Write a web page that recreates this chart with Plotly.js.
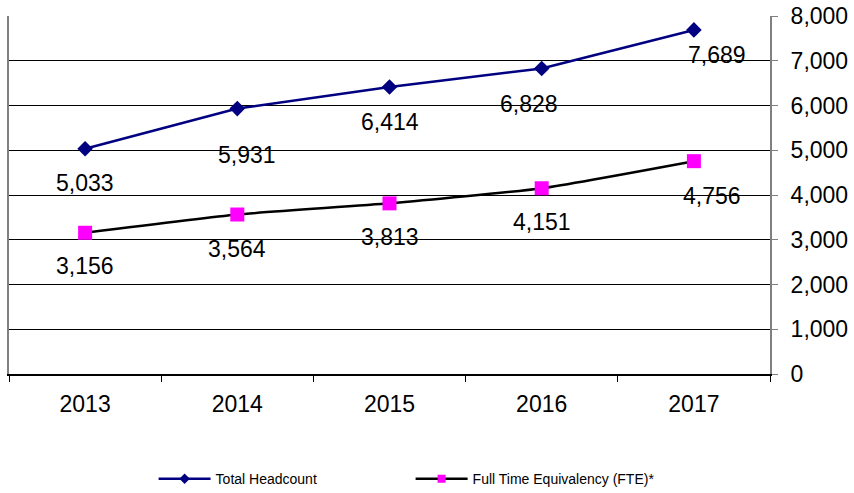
<!DOCTYPE html>
<html>
<head>
<meta charset="utf-8">
<script src="https://cdn.plot.ly/plotly-3.0.1.min.js"></script>
<style>html,body{margin:0;padding:0;background:#fff;}#chart{width:854px;height:493px;}</style>
</head>
<body>
<div id="chart"></div>
<script>
const years = ['2013', '2014', '2015', '2016', '2017'];
const headcount = [5033, 5931, 6414, 6828, 7689];
const fte = [3156, 3564, 3813, 4151, 4756];
const seriesNames = ['Total Headcount', 'Full Time Equivalency (FTE)*'];
const yTicks = [0, 1000, 2000, 3000, 4000, 5000, 6000, 7000, 8000];

// label offsets (px) relative to each point
const hcShiftX = [0, 10, 0, -13, 23];
const hcShiftY = [-34, -46, -35, -36, -25];
const fteShiftX = [0, 0, 0, 0, 18];
const fteShiftY = [-33, -34, -34, -34, -35];

const fmt = v => v.toLocaleString('en-US');

const hcLine = {color: '#000080', width: 2.5};
const fteLine = {color: '#000000', width: 2.5, shape: 'spline', smoothing: 0.5};

const traces = [
  {
    x: years, y: headcount, name: seriesNames[0], type: 'scatter', mode: 'lines+markers',
    line: hcLine, showlegend: false,
    marker: {symbol: 'diamond', size: 12, color: '#000080'}
  },
  {
    x: years, y: fte, name: seriesNames[1], type: 'scatter', mode: 'lines+markers',
    line: fteLine, showlegend: false,
    marker: {symbol: 'square', size: 14, color: '#FF00FF'}
  },
  // legend-only entries (smaller legend symbols)
  {
    x: [null], y: [null], name: seriesNames[0], type: 'scatter', mode: 'lines+markers',
    line: hcLine, marker: {symbol: 'diamond', size: 8, color: '#000080'}
  },
  {
    x: [null], y: [null], name: seriesNames[1], type: 'scatter', mode: 'lines+markers',
    line: {color: '#000000', width: 2.5}, marker: {symbol: 'square', size: 8, color: '#FF00FF'}
  }
];

const annotations = [];
years.forEach((yr, i) => {
  annotations.push({x: i, y: headcount[i], xref: 'x', yref: 'y', text: fmt(headcount[i]), showarrow: false,
    xshift: hcShiftX[i], yshift: hcShiftY[i], font: {family: 'Liberation Sans, Arial', size: 23, color: '#000'}});
  annotations.push({x: i, y: fte[i], xref: 'x', yref: 'y', text: fmt(fte[i]), showarrow: false,
    xshift: fteShiftX[i], yshift: fteShiftY[i], font: {family: 'Liberation Sans, Arial', size: 23, color: '#000'}});
});

const layout = {
  width: 854, height: 493,
  margin: {l: 9, r: 84, t: 16, b: 119},
  paper_bgcolor: '#fff', plot_bgcolor: '#fff',
  font: {family: 'Liberation Sans, Arial', color: '#000'},
  showlegend: true,
  legend: {orientation: 'h', x: 0.19, y: 0.028, xref: 'paper', yref: 'container', xanchor: 'left', yanchor: 'middle',
    font: {size: 14, family: 'Liberation Sans, Arial'}, entrywidth: 190, entrywidthmode: 'pixels', itemwidth: 52},
  xaxis: {
    type: 'category', range: [-0.5, 4.5], tickson: 'boundaries', ticks: 'outside', ticklen: 6,
    tickcolor: '#000', showline: true, linecolor: '#000', linewidth: 2, showgrid: false,
    tickfont: {size: 23}, ticklabelstandoff: 8, zeroline: false, fixedrange: true
  },
  yaxis: {
    side: 'right', range: [0, 8000], tickvals: yTicks, ticktext: yTicks.map(fmt),
    showgrid: true, gridcolor: '#000', gridwidth: 1, zeroline: false,
    showline: true, linecolor: '#808080', linewidth: 2, mirror: true,
    ticks: 'outside', ticklen: 6, tickcolor: '#808080', ticklabelstandoff: 8,
    tickfont: {size: 23}, fixedrange: true
  },
  annotations: annotations
};

Plotly.newPlot('chart', traces, layout, {displayModeBar: false, staticPlot: true});
</script>
</body>
</html>
